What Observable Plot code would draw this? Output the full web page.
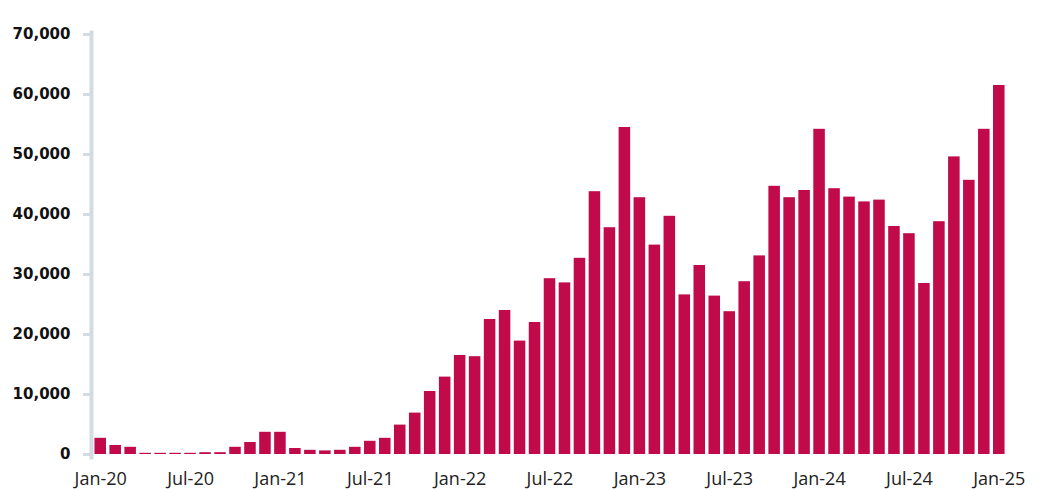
<!DOCTYPE html>
<html>
<head>
<meta charset="utf-8">
<script src="https://cdn.jsdelivr.net/npm/d3@7"></script>
<script src="https://cdn.jsdelivr.net/npm/@observablehq/plot@0.6"></script>
<style>
  html, body { margin: 0; padding: 0; background: #fff; }
  #chart svg { display: block; }
</style>
</head>
<body>
<div id="chart"></div>
<script>
const months = [
  "Jan-20","Feb-20","Mar-20","Apr-20","May-20","Jun-20","Jul-20","Aug-20","Sep-20","Oct-20","Nov-20","Dec-20",
  "Jan-21","Feb-21","Mar-21","Apr-21","May-21","Jun-21","Jul-21","Aug-21","Sep-21","Oct-21","Nov-21","Dec-21",
  "Jan-22","Feb-22","Mar-22","Apr-22","May-22","Jun-22","Jul-22","Aug-22","Sep-22","Oct-22","Nov-22","Dec-22",
  "Jan-23","Feb-23","Mar-23","Apr-23","May-23","Jun-23","Jul-23","Aug-23","Sep-23","Oct-23","Nov-23","Dec-23",
  "Jan-24","Feb-24","Mar-24","Apr-24","May-24","Jun-24","Jul-24","Aug-24","Sep-24","Oct-24","Nov-24","Dec-24",
  "Jan-25"
];
const values = [
  2700, 1500, 1200, 200, 200, 200, 200, 300, 300, 1200, 2000, 3700,
  3700, 1000, 700, 600, 700, 1200, 2200, 2700, 4900, 6900, 10500, 12900,
  16500, 16300, 22500, 24000, 18900, 22000, 29300, 28600, 32700, 43800, 37800, 54500,
  42800, 34900, 39700, 26600, 31500, 26400, 23800, 28800, 33100, 44700, 42800, 44000,
  54200, 44300, 42900, 42100, 42400, 38000, 36800, 28500, 38800, 49600, 45700, 54200,
  61500
];
const xTickLabels = ["Jan-20","Jul-20","Jan-21","Jul-21","Jan-22","Jul-22","Jan-23","Jul-23","Jan-24","Jul-24","Jan-25"];
const yTicks = [0, 10000, 20000, 30000, 40000, 50000, 60000, 70000];

const data = months.map((m, i) => ({month: m, value: values[i]}));

const chart = Plot.plot({
  width: 1049,
  height: 489,
  marginLeft: 91,
  marginRight: 41,
  marginTop: 34,
  marginBottom: 35,
  style: {fontFamily: "'Open Sans', sans-serif", background: "#fff"},
  x: {domain: months, padding: 0.23, label: null},
  y: {domain: [0, 70000], label: null},
  marks: [
    Plot.axisY({
      ticks: yTicks,
      tickSize: 8,
      tickPadding: 13,
      stroke: "#d3dce2",
      strokeWidth: 3,
      tickFormat: d3.format(","),
      fontFamily: "DejaVu Sans",
      fontWeight: "bold",
      fontSize: 15,
      fill: "#111",
      label: null
    }),
    Plot.axisX({
      ticks: xTickLabels,
      tickSize: 0,
      tickPadding: 18,
      fontSize: 18,
      fill: "#222",
      label: null
    }),
    Plot.frame({anchor: "left", stroke: "#d3dce2", strokeWidth: 4, insetTop: -2, insetBottom: -3}),
    Plot.barY(data, {x: "month", y: "value", fill: "#c10a4a"})
  ]
});
document.getElementById("chart").append(chart);
</script>
</body>
</html>
